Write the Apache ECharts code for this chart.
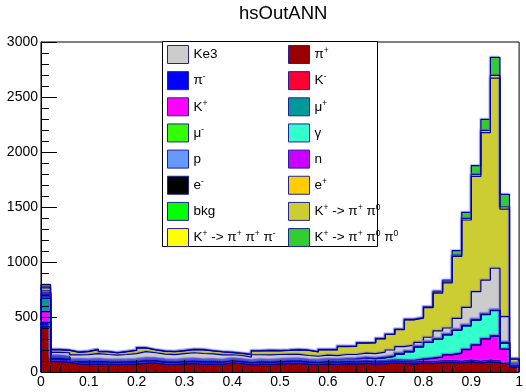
<!DOCTYPE html>
<html>
<head>
<meta charset="utf-8">
<script src="https://cdn.jsdelivr.net/npm/echarts@6/dist/echarts.min.js"></script>
<style>
html, body { margin: 0; padding: 0; background: #ffffff; }
#chart { width: 526px; height: 392px; }
</style>
</head>
<body>
<div id="chart"></div>
<script>
// Bin edges of the ANN output histogram (50 bins of width 0.02)
const binEdges = [0, 0.02, 0.04, 0.06, 0.08, 0.10, 0.12, 0.14, 0.16, 0.18,
  0.20, 0.22, 0.24, 0.26, 0.28, 0.30, 0.32, 0.34, 0.36, 0.38,
  0.40, 0.42, 0.44, 0.46, 0.48, 0.50, 0.52, 0.54, 0.56, 0.58,
  0.60, 0.62, 0.64, 0.66, 0.68, 0.70, 0.72, 0.74, 0.76, 0.78,
  0.80, 0.82, 0.84, 0.86, 0.88, 0.90, 0.92, 0.94, 0.96, 0.98, 1.00];

// Per-component bin contents, listed from the bottom of the stack upwards
const piPlus = [410, 95, 88, 72, 70, 72, 70, 68, 70, 72, 78, 82, 70, 68, 72, 75, 70, 72, 68, 80,
  75, 65, 70, 68, 72, 75, 78, 70, 68, 72, 70, 74, 72, 78, 70, 74, 82, 78, 72, 80,
  76, 85, 88, 80, 92, 80, 92, 84, 66, 45];
const piMinus = [38, 25, 24, 20, 21, 22, 20, 19, 20, 21, 22, 20, 21, 19, 20, 22, 21, 20, 19, 20,
  20, 18, 20, 19, 20, 21, 20, 19, 18, 20, 18, 19, 18, 18, 17, 18, 16, 15, 15, 15,
  14, 14, 14, 14, 14, 14, 14, 14, 12, 10];
const kMinus = [5, 3, 3, 2, 2, 3, 2, 2, 2, 2, 3, 2, 2, 2, 2, 3, 2, 2, 2, 2,
  2, 2, 2, 2, 2, 2, 2, 2, 2, 2, 2, 2, 2, 2, 2, 2, 2, 2, 2, 2,
  2, 2, 2, 2, 2, 2, 2, 2, 2, 1];
const kPlus = [96, 5, 4, 4, 3, 4, 3, 4, 3, 4, 4, 3, 4, 3, 4, 4, 3, 4, 3, 4,
  3, 3, 4, 3, 4, 4, 3, 4, 3, 4, 4, 4, 5, 5, 6, 6, 7, 9, 12, 18,
  32, 33, 51, 74, 95, 149, 192, 227, 126, 6];
const muPlus = [120, 5, 4, 3, 4, 3, 3, 4, 3, 3, 4, 3, 3, 3, 4, 3, 3, 3, 4, 3,
  3, 3, 3, 3, 3, 3, 3, 3, 3, 3, 3, 3, 3, 3, 3, 3, 3, 3, 3, 3,
  3, 3, 3, 3, 3, 3, 3, 3, 3, 2];
const muMinus = [6, 1, 1, 1, 1, 1, 1, 1, 1, 1, 1, 1, 1, 1, 1, 1, 1, 1, 1, 1,
  1, 1, 1, 1, 1, 1, 1, 1, 1, 1, 1, 1, 1, 1, 1, 1, 1, 1, 1, 1,
  1, 1, 1, 1, 1, 1, 1, 1, 1, 1];
const gamma = [12, 4, 3, 3, 3, 3, 3, 3, 3, 3, 3, 3, 3, 3, 3, 3, 3, 3, 3, 3,
  3, 3, 3, 3, 3, 4, 4, 4, 5, 6, 8, 10, 14, 18, 20, 24, 30, 55, 78, 108,
  140, 158, 178, 205, 212, 222, 218, 226, 52, 6];
const proton = [15, 3, 2, 2, 2, 2, 2, 2, 2, 2, 2, 2, 2, 2, 2, 2, 2, 2, 2, 2,
  2, 2, 2, 2, 2, 2, 2, 2, 2, 2, 2, 2, 2, 2, 2, 2, 2, 2, 2, 2,
  2, 2, 2, 2, 2, 2, 2, 2, 2, 2];
const neutron = [6, 1, 1, 1, 1, 1, 1, 1, 1, 1, 1, 1, 1, 1, 1, 1, 1, 1, 1, 1,
  1, 1, 1, 1, 1, 1, 1, 1, 1, 1, 1, 1, 1, 1, 1, 1, 1, 1, 1, 1,
  1, 1, 1, 1, 1, 1, 1, 1, 1, 1];
const eMinus = [6, 1, 1, 1, 1, 1, 1, 1, 1, 1, 1, 1, 1, 1, 1, 1, 1, 1, 1, 1,
  1, 1, 1, 1, 1, 1, 1, 1, 1, 1, 1, 1, 1, 1, 1, 1, 1, 1, 1, 1,
  1, 1, 1, 1, 1, 1, 1, 1, 1, 1];
const ePlus = [8, 5, 5, 4, 4, 4, 4, 4, 4, 4, 5, 4, 4, 4, 4, 4, 4, 4, 4, 4,
  4, 4, 4, 4, 4, 4, 4, 4, 4, 4, 3, 3, 3, 3, 3, 3, 3, 3, 3, 3,
  3, 3, 3, 3, 3, 3, 3, 3, 3, 2];
const bkg = [3, 1, 1, 1, 1, 1, 1, 1, 1, 1, 1, 1, 1, 1, 1, 1, 1, 1, 1, 1,
  1, 1, 1, 1, 1, 1, 1, 1, 1, 1, 1, 1, 1, 1, 1, 1, 1, 1, 1, 1,
  1, 1, 1, 1, 1, 1, 1, 1, 1, 1];
const ke3 = [12, 30, 38, 42, 45, 50, 48, 44, 48, 52, 60, 52, 50, 50, 52, 55, 56, 50, 46, 35,
  34, 32, 45, 48, 45, 42, 40, 38, 34, 36, 35, 38, 36, 38, 40, 45, 51, 59, 54, 35,
  40, 70, 55, 101, 161, 251, 306, 378, 233, 4];
const kPi2 = [28, 22, 21, 23, 28, 36, 25, 19, 25, 29, 33, 25, 25, 26, 25, 28, 33, 27, 27, 19,
  18, 22, 34, 38, 33, 35, 41, 46, 39, 48, 53, 72, 73, 91, 97, 120, 141, 155, 228, 220,
  269, 343, 410, 563, 794, 1048, 1341, 1728, 977, 34];
const k3Pi = [10, 2, 2, 2, 2, 2, 2, 2, 2, 2, 2, 2, 2, 2, 2, 2, 2, 2, 2, 2,
  2, 2, 2, 2, 2, 2, 2, 2, 2, 2, 2, 2, 2, 2, 2, 2, 2, 2, 3, 3,
  5, 10, 10, 12, 15, 18, 20, 25, 20, 3];
const kPi0Pi0 = [20, 2, 2, 2, 2, 2, 2, 2, 2, 2, 2, 2, 2, 2, 2, 2, 2, 2, 2, 2,
  2, 2, 2, 2, 2, 2, 2, 2, 2, 2, 2, 2, 2, 2, 2, 2, 2, 3, 4, 4,
  5, 8, 15, 40, 55, 80, 100, 165, 115, 6];

// Axis ticks
const yTicks = [0, 500, 1000, 1500, 2000, 2500, 3000];
const xTicks = [0, 0.1, 0.2, 0.3, 0.4, 0.5, 0.6, 0.7, 0.8, 0.9, 1];

// Stack order (bottom first) with fill colours
const layers = [
  { name: 'π⁺', color: '#990000', values: piPlus },
  { name: 'π⁻', color: '#0000ff', values: piMinus },
  { name: 'K⁻', color: '#ff0033', values: kMinus },
  { name: 'K⁺', color: '#ff00ff', values: kPlus },
  { name: 'μ⁺', color: '#009999', values: muPlus },
  { name: 'μ⁻', color: '#33ff00', values: muMinus },
  { name: 'γ', color: '#33ffcc', values: gamma },
  { name: 'p', color: '#6699ff', values: proton },
  { name: 'n', color: '#cc00ff', values: neutron },
  { name: 'e⁻', color: '#000000', values: eMinus },
  { name: 'e⁺', color: '#ffcc00', values: ePlus },
  { name: 'bkg', color: '#00ff00', values: bkg },
  { name: 'Ke3', color: '#cccccc', values: ke3 },
  { name: 'K⁺ -> π⁺ π⁰', color: '#cccc33', values: kPi2 },
  { name: 'K⁺ -> π⁺ π⁺ π⁻', color: '#ffff00', values: k3Pi },
  { name: 'K⁺ -> π⁺ π⁰ π⁰', color: '#33cc33', values: kPi0Pi0 }
];

const legendLeft = ['Ke3', 'π⁻', 'K⁺', 'μ⁻', 'p', 'e⁻', 'bkg', 'K⁺ -> π⁺ π⁺ π⁻'];
const legendRight = ['π⁺', 'K⁻', 'μ⁺', 'γ', 'n', 'e⁺', 'K⁺ -> π⁺ π⁰', 'K⁺ -> π⁺ π⁰ π⁰'];

// Cumulative sums: each layer is drawn as the total of itself and everything below it,
// painted from the top of the stack down so lower layers cover the upper fills.
const nBins = binEdges.length - 1;
let running = new Array(nBins).fill(0);
const cumulative = layers.map(function (layer) {
  running = running.map(function (v, i) { return v + layer.values[i]; });
  return running.slice();
});

const FONT = 'Liberation Sans, Arial, Helvetica, sans-serif';
const series = [];
for (let k = layers.length - 1; k >= 0; k--) {
  const c = cumulative[k];
  const pts = [[binEdges[0], 0]];
  for (let i = 0; i < nBins; i++) pts.push([binEdges[i], c[i]]);
  pts.push([binEdges[nBins], c[nBins - 1]]);
  pts.push([binEdges[nBins], 0]);
  series.push({
    type: 'line',
    name: layers[k].name,
    data: pts,
    step: 'end',
    symbol: 'none',
    showSymbol: false,
    color: layers[k].color,
    itemStyle: { color: layers[k].color },
    areaStyle: { color: layers[k].color, opacity: 1 },
    lineStyle: {
      color: '#000099', width: 1.2,
      shadowColor: 'rgba(110,110,230,0.45)', shadowBlur: 1,
      shadowOffsetX: -1, shadowOffsetY: -1
    },
    silent: true,
    animation: false,
    emphasis: { disabled: true },
    z: 2
  });
}

// Legend labels: superscript charges drawn as small raised text
const supMap = { '⁺': '+', '⁻': '-', '⁰': '0' };
function legendLabel(name) {
  let out = '';
  let plain = '';
  for (const ch of name) {
    if (supMap[ch] !== undefined) {
      if (plain) { out += '{b|' + plain + '}'; plain = ''; }
      out += '{s|' + supMap[ch] + '}';
    } else {
      plain += ch;
    }
  }
  if (plain) out += '{b|' + plain + '}';
  return out;
}

function legendColumn(left, names) {
  return {
    data: names,
    orient: 'vertical',
    left: left,
    top: 45,
    padding: 0,
    itemWidth: 21,
    itemHeight: 18,
    itemGap: 7.15,
    icon: 'rect',
    selectedMode: false,
    formatter: legendLabel,
    itemStyle: { borderColor: '#22229a', borderWidth: 1 },
    textStyle: {
      fontFamily: FONT, fontSize: 13.5, color: '#000000',
      rich: {
        b: { fontFamily: FONT, fontSize: 13.5, color: '#000000', lineHeight: 16, verticalAlign: 'middle' },
        s: { fontFamily: FONT, fontSize: 8.5, color: '#000000', lineHeight: 10, verticalAlign: 'top' }
      }
    },
    z: 20
  };
}

const chart = echarts.init(document.getElementById('chart'), null, { renderer: 'canvas' });
chart.setOption({
  backgroundColor: '#ffffff',
  animation: false,
  title: {
    text: 'hsOutANN',
    left: 239,
    top: 4,
    padding: 0,
    textStyle: { fontFamily: FONT, fontSize: 18.5, fontWeight: 'normal', color: '#000000' }
  },
  grid: {
    left: 41, right: 1, top: 42, bottom: 20,
    show: true, borderColor: '#000000', borderWidth: 1, backgroundColor: 'transparent'
  },
  xAxis: {
    type: 'value',
    min: xTicks[0],
    max: xTicks[xTicks.length - 1],
    interval: 0.1,
    z: 10,
    axisLine: { show: true, lineStyle: { color: '#000000', width: 1 } },
    axisTick: { show: true, inside: true, length: 12, lineStyle: { color: '#000000' } },
    minorTick: { show: true, splitNumber: 5, length: 6, lineStyle: { color: '#000000' } },
    splitLine: { show: false },
    axisLabel: {
      margin: 3, fontFamily: FONT, fontSize: 14, color: '#000000',
      showMaxLabel: true, showMinLabel: true,
      formatter: function (v) { return String(Math.round(v * 10) / 10); }
    }
  },
  yAxis: {
    type: 'value',
    min: yTicks[0],
    max: yTicks[yTicks.length - 1],
    interval: 500,
    z: 10,
    axisLine: { show: true, lineStyle: { color: '#000000', width: 1 } },
    axisTick: { show: true, inside: true, length: 16, lineStyle: { color: '#000000' } },
    minorTick: { show: true, splitNumber: 5, length: 8, lineStyle: { color: '#000000' } },
    splitLine: { show: false },
    axisLabel: {
      margin: 3, fontFamily: FONT, fontSize: 14, color: '#000000',
      formatter: function (v) { return String(v); }
    }
  },
  graphic: [{
    type: 'rect',
    z: 15,
    shape: { x: 162.5, y: 41.5, width: 215, height: 205 },
    style: { fill: '#ffffff', stroke: '#000000', lineWidth: 1 }
  }],
  legend: [legendColumn(167, legendLeft), legendColumn(288, legendRight)],
  series: series
});
</script>
</body>
</html>
